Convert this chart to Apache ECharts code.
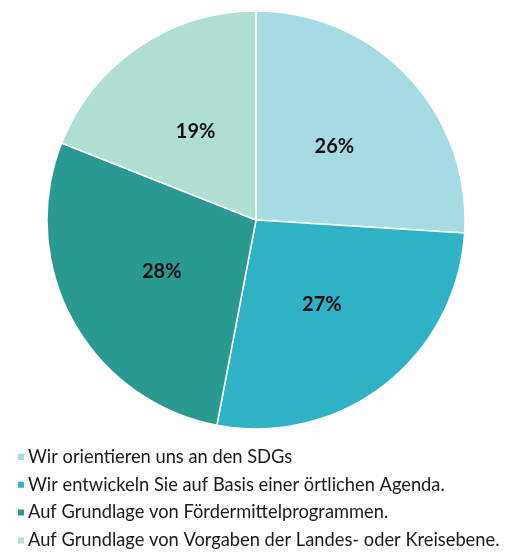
<!DOCTYPE html>
<html>
<head>
<meta charset="utf-8">
<script src="https://cdn.jsdelivr.net/npm/echarts@6/dist/echarts.min.js"></script>
<style>
html,body{margin:0;padding:0;background:#fff;}
#chart{width:507px;height:553px;}
</style>
</head>
<body>
<div id="chart"></div>
<script>
const categories = [
  'Wir orientieren uns an den SDGs',
  'Wir entwickeln Sie auf Basis einer örtlichen Agenda.',
  'Auf Grundlage von Fördermittelprogrammen.',
  'Auf Grundlage von Vorgaben der Landes- oder Kreisebene.'
];
const shares = [26, 27, 28, 19];
const colors = ['#a7dbe3', '#2fb2c5', '#2a9a91', '#afdfd4'];

const chart = echarts.init(document.getElementById('chart'), null, {renderer: 'canvas'});
chart.setOption({
  animation: false,
  color: colors,
  legend: {
    orient: 'vertical',
    left: 11,
    top: 443,
    width: 496,
    height: 115,
    itemWidth: 8,
    itemHeight: 8,
    itemGap: 9.8,
    icon: 'rect',
    textStyle: {fontFamily: 'Lato', fontSize: 18.3, color: '#1a1a1a', padding: [0,0,0,-2]},
    data: categories
  },
  series: [{
    type: 'pie',
    center: [256, 220],
    radius: [0, 209],
    startAngle: 90,
    clockwise: true,
    itemStyle: {borderColor: '#ffffff', borderWidth: 1.5},
    label: {
      show: true,
      position: 'inside',
      formatter: p => p.value + '%',
      fontFamily: 'Lato',
      fontWeight: 'bold',
      fontSize: 20,
      color: '#111'
    },
    labelLine: {show: false},
    data: categories.map((c, i) => ({name: c, value: shares[i]}))
  }]
});
</script>
</body>
</html>
